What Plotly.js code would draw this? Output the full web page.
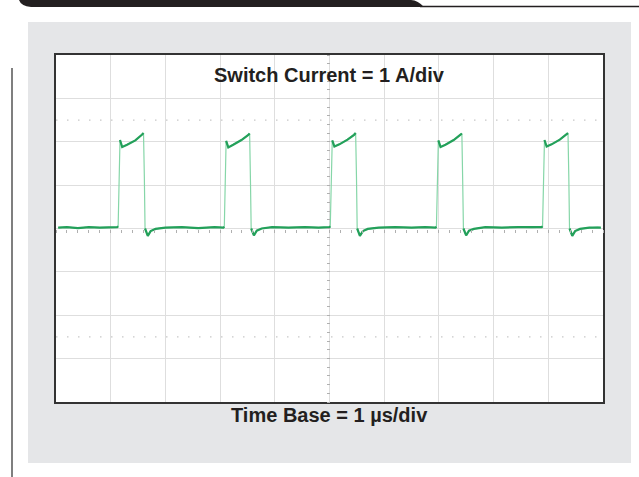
<!DOCTYPE html>
<html>
<head>
<meta charset="utf-8">
<script src="https://cdn.plot.ly/plotly-3.0.1.min.js"></script>
<style>
html,body{margin:0;padding:0;background:#ffffff;}
#chart{width:639px;height:477px;}
</style>
</head>
<body>
<div id="chart"></div>
<script>
// Oscilloscope trace: time in µs (1 µs/div), current in A (1 A/div)
const timeUs = [
  0.04, 0.2, 0.4, 0.6, 0.8, 1.0, 1.12,
  1.136, 1.17, 1.21, 1.30, 1.45, 1.57, 1.600, 1.615, 1.628, 1.678, 1.73, 1.82,
  2.0, 2.3, 2.6, 2.9, 3.06,
  3.077, 3.11, 3.15, 3.24, 3.39, 3.51, 3.540, 3.555, 3.568, 3.618, 3.67, 3.76,
  3.95, 4.25, 4.55, 4.8, 5.0,
  5.014, 5.05, 5.09, 5.18, 5.33, 5.45, 5.478, 5.493, 5.506, 5.556, 5.61, 5.70,
  5.9, 6.2, 6.5, 6.75, 6.94,
  6.955, 6.99, 7.03, 7.12, 7.27, 7.39, 7.420, 7.435, 7.448, 7.498, 7.55, 7.64,
  7.85, 8.15, 8.45, 8.7, 8.88,
  8.895, 8.93, 8.97, 9.06, 9.21, 9.33, 9.360, 9.375, 9.388, 9.438, 9.49, 9.58,
  9.75, 9.9, 9.96
];
const currentA = [
  0.02, 0.03, 0.01, 0.03, 0.02, 0.03, 0.03,
  0.05, 2.04, 1.88, 1.93, 2.03, 2.16, 2.20, 1.20, 0.00, -0.17, -0.06, -0.01,
  0.02, 0.03, 0.01, 0.03, 0.02,
  0.04, 2.02, 1.87, 1.93, 2.04, 2.15, 2.19, 1.10, 0.00, -0.16, -0.05, 0.00,
  0.03, 0.02, 0.03, 0.02, 0.03,
  0.05, 2.03, 1.89, 1.94, 2.05, 2.16, 2.20, 1.20, 0.00, -0.17, -0.06, -0.01,
  0.02, 0.03, 0.02, 0.03, 0.02,
  0.04, 2.03, 1.88, 1.93, 2.04, 2.16, 2.19, 1.10, 0.00, -0.16, -0.05, -0.01,
  0.03, 0.02, 0.03, 0.02, 0.03,
  0.05, 2.04, 1.89, 1.94, 2.05, 2.17, 2.20, 1.20, 0.00, -0.17, -0.06, -0.01,
  0.02, 0.03, 0.02
];
const topLabel = "Switch Current = 1 A/div";
const bottomLabel = "Time Base = 1 µs/div";
const xRange = [0, 10];
const yRange = [-4, 4];
const dottedLevels = [2.5, -2.5];

// Dense (slow) parts of the trace: break at fast edges
const denseX = [], denseY = [];
for (let k = 0; k < timeUs.length; k++) {
  if (k > 0 && Math.abs(currentA[k] - currentA[k-1]) > 0.5) { denseX.push(null); denseY.push(null); }
  denseX.push(timeUs[k]); denseY.push(currentA[k]);
}

const W = 639, H = 477;
const M = {l: 56, r: 36, t: 55, b: 75};
const PW = W - M.l - M.r, PH = H - M.t - M.b;
const px = x => (x - M.l) / PW;
const py = y => (H - M.b - y) / PH;
function path(pts, close) {
  return pts.map((p, i) => (p[0] ? p[0] + ' ' : '') + px(p[1]).toFixed(5) + ',' + py(p[2]).toFixed(5)
    + (p.length > 3 ? ' ' + px(p[3]).toFixed(5) + ',' + py(p[4]).toFixed(5) : '')).join(' ') + (close ? ' Z' : '');
}

const shapes = [
  // gray panel
  {type:'rect', xref:'paper', yref:'paper', layer:'below', x0:px(28), x1:px(631), y0:py(463), y1:py(22),
   fillcolor:'#e5e6e8', line:{width:0}},
  // white screen
  {type:'rect', xref:'paper', yref:'paper', layer:'below', x0:0, x1:1, y0:0, y1:1,
   fillcolor:'#ffffff', line:{width:0}},
  // black header tab
  {type:'path', xref:'paper', yref:'paper', layer:'above', fillcolor:'#231f20', line:{width:0},
   path: path([['M',19,0],['L',411,0],['Q',418,0.5,424,7],['L',31,7],['Q',21,6,19,0]], true)},
  // header rule
  {type:'line', xref:'paper', yref:'paper', x0:px(420), x1:px(639), y0:py(6.5), y1:py(6.5),
   line:{color:'#231f20', width:1.5}},
  // left page rule
  {type:'line', xref:'paper', yref:'paper', x0:px(12), x1:px(12), y0:py(68), y1:py(477),
   line:{color:'#555555', width:1.5}},
  // center vertical dotted line
  {type:'line', xref:'x', yref:'paper', x0:5, x1:5, y0:0, y1:1, layer:'below',
   line:{color:'#b5b5b5', width:1, dash:'2px,3px'}}
];
dottedLevels.forEach(v => shapes.push({type:'line', xref:'paper', yref:'y', x0:0, x1:1, y0:v, y1:v, layer:'below',
  line:{color:'#c8c8c8', width:1.2, dash:'1.5px,9.5px'}}));

const traces = [
  {x: timeUs, y: currentA, type:'scatter', mode:'lines', line:{color:'#86d6a8', width:1.2}, hoverinfo:'skip', showlegend:false},
  {x: denseX, y: denseY, type:'scatter', mode:'lines', line:{color:'#23a05a', width:2.2}, connectgaps:false, hoverinfo:'skip', showlegend:false},
  {x:[null], y:[null], xaxis:'x2', yaxis:'y2', type:'scatter', mode:'lines', showlegend:false, hoverinfo:'skip'}
];

const axBase = {showticklabels:false, ticks:'', zeroline:false, showgrid:true, gridcolor:'#dedede', gridwidth:1,
  showline:true, mirror:true, linecolor:'#333333', linewidth:2, fixedrange:true, dtick:1, tick0:0};

const layout = {
  width: W, height: H,
  margin: M,
  paper_bgcolor:'#ffffff', plot_bgcolor:'#ffffff',
  showlegend:false,
  font:{family:'Liberation Sans, Arial, sans-serif', color:'#231f20'},
  xaxis: Object.assign({}, axBase, {range:xRange}),
  yaxis: Object.assign({}, axBase, {range:yRange}),
  xaxis2: {overlaying:'x', anchor:'free', position:0.5, range:xRange, showgrid:false, zeroline:false, showline:false,
    showticklabels:false, ticks:'outside', ticklen:3, tickcolor:'#b0b0b0', tickwidth:1, tickmode:'linear', tick0:0, dtick:0.2, fixedrange:true},
  yaxis2: {overlaying:'y', anchor:'free', position:0.5, range:yRange, showgrid:false, zeroline:false, showline:false,
    showticklabels:false, ticks:'outside', ticklen:3, tickcolor:'#b0b0b0', tickwidth:1, tickmode:'linear', tick0:0, dtick:0.2, fixedrange:true},
  shapes: shapes,
  annotations: [
    {text:'<b>' + topLabel + '</b>', xref:'paper', yref:'paper', x:0.5, y:py(75), xanchor:'center', yanchor:'middle',
     showarrow:false, font:{size:20, color:'#231f20', family:'Liberation Sans, Arial, sans-serif'}},
    {text:'<b>' + bottomLabel + '</b>', xref:'paper', yref:'paper', x:0.5, y:py(415), xanchor:'center', yanchor:'middle',
     showarrow:false, font:{size:20, color:'#231f20', family:'Liberation Sans, Arial, sans-serif'}}
  ]
};

Plotly.newPlot('chart', traces, layout, {displayModeBar:false, staticPlot:true});
</script>
</body>
</html>
